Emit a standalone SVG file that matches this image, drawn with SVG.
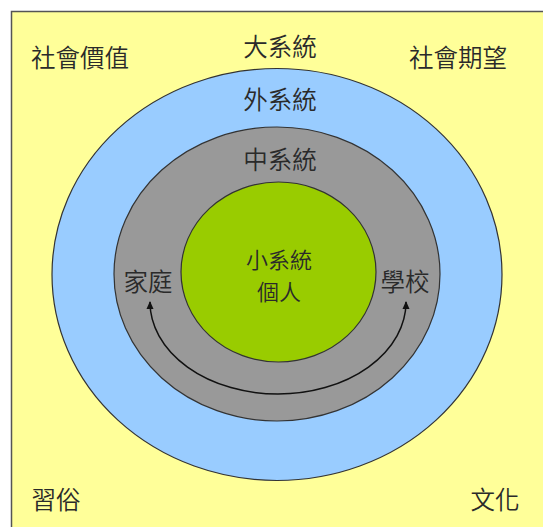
<svg xmlns="http://www.w3.org/2000/svg" width="543" height="527" viewBox="0 0 543 527">
<style>
text{font-family:"Noto Sans CJK TC","Noto Sans CJK SC",sans-serif;font-size:24.5px;font-weight:350;fill:#2a2a2a;text-anchor:middle}
.ring{stroke:#333;stroke-width:1.2}
.mid{font-size:22px}
</style>
<defs>
<marker id="ah" viewBox="0 0 10 10" refX="8" refY="5" markerWidth="6" markerHeight="6" orient="auto-start-reverse">
<path d="M0,1 L9,5 L0,9 z" fill="#111"/>
</marker>
</defs>
<rect x="0" y="0" width="543" height="527" fill="#fff"/>
<rect id="bg" x="11.5" y="11.5" width="540" height="525" fill="#FFFF99" stroke="#555" stroke-width="1.5"/>
<g id="macro">
<ellipse class="ring" cx="277" cy="274.5" rx="225" ry="206" fill="#99CCFF"/>
</g>
<g id="meso">
<ellipse class="ring" cx="277" cy="274" rx="163" ry="147" fill="#999999"/>
</g>
<g id="micro">
<ellipse class="ring" cx="278.5" cy="272" rx="97.5" ry="90" fill="#99CC00"/>
</g>
<g id="connectors">
<path d="M150,302 A128 92 0 0 0 406,302" fill="none" stroke="#111" stroke-width="1.5" marker-start="url(#ah)" marker-end="url(#ah)"/>
</g>
<g id="labels">
<text x="80" y="67">社會價值</text>
<text x="280" y="56">大系統</text>
<text x="458" y="67">社會期望</text>
<text x="280" y="109">外系統</text>
<text x="280" y="169">中系統</text>
<text x="148" y="291">家庭</text>
<text x="405" y="291">學校</text>
<text class="mid" x="279" y="268">小系統</text>
<text class="mid" x="279" y="300">個人</text>
<text x="56" y="509">習俗</text>
<text x="495" y="509">文化</text>
</g>
</svg>
